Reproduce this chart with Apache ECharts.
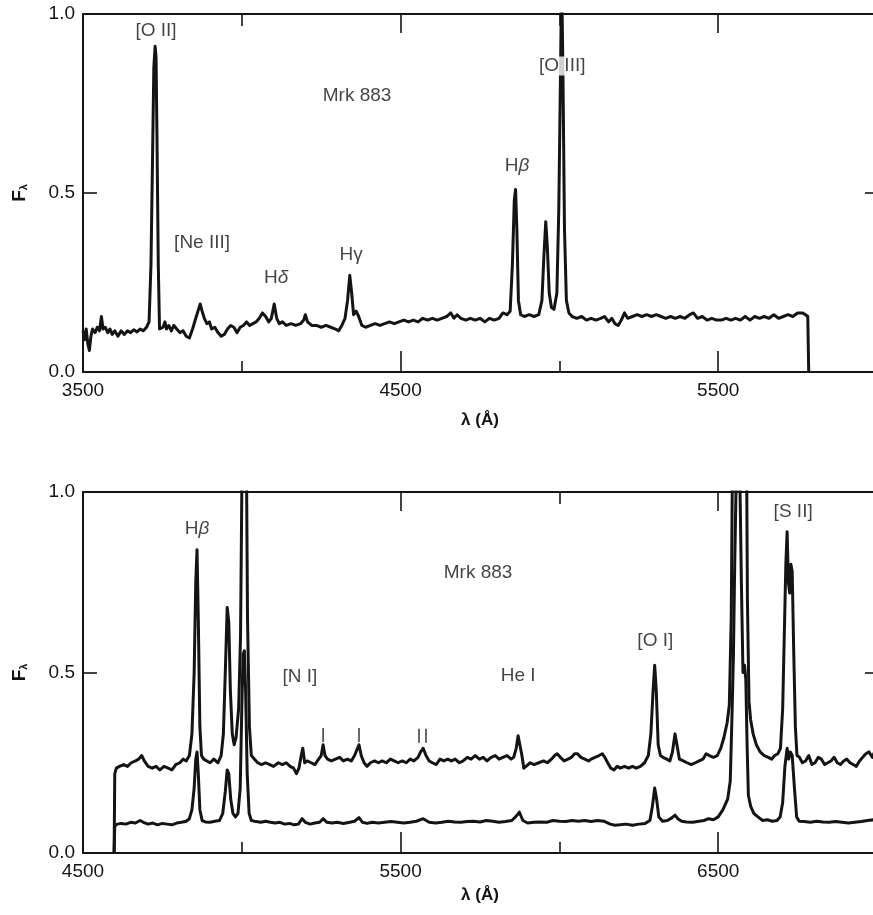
<!DOCTYPE html>
<html><head><meta charset="utf-8">
<script src="https://cdn.jsdelivr.net/npm/echarts@6/dist/echarts.min.js"></script>
<style>html,body{margin:0;padding:0;background:#fff;overflow:hidden}#c{width:873px;height:915px}</style>
</head><body><div id="c"></div>
<script>
// ---------- Top panel spectrum (Mrk 883, blue) ----------
const topWave = [3500,3505,3510,3515,3520,3525,3530,3538,3545,3552,3558,3563,3570,3578,3585,3592,3600,3610,3620,3630,3640,3650,3660,3670,3680,3690,3700,3708,3714,3719,3723,3727,3730,3733,3737,3741,3746,3752,3758,3763,3770,3778,3786,3795,3805,3815,3825,3835,3845,3855,3862,3869,3875,3882,3890,3898,3905,3915,3925,3935,3945,3955,3965,3975,3985,3995,4005,4015,4025,4035,4045,4055,4065,4075,4085,4093,4102,4110,4118,4128,4140,4155,4170,4185,4195,4200,4207,4220,4235,4250,4265,4280,4295,4305,4315,4325,4333,4340,4346,4352,4360,4368,4378,4390,4405,4420,4435,4450,4465,4480,4495,4510,4525,4540,4555,4570,4585,4600,4615,4630,4645,4658,4668,4678,4690,4705,4720,4735,4750,4765,4780,4795,4810,4822,4835,4845,4852,4858,4862,4866,4871,4878,4890,4905,4920,4935,4945,4951,4957,4962,4968,4975,4983,4992,4998,5003,5007,5011,5016,5022,5030,5040,5055,5070,5085,5100,5115,5130,5142,5155,5165,5175,5185,5195,5205,5215,5230,5245,5260,5275,5290,5305,5320,5335,5350,5365,5380,5395,5410,5422,5435,5450,5465,5480,5495,5510,5525,5540,5555,5570,5585,5600,5615,5630,5645,5660,5675,5690,5705,5720,5735,5750,5765,5775,5782,5785];
const topFlux = [0.115,0.09,0.12,0.08,0.06,0.10,0.12,0.11,0.125,0.115,0.155,0.12,0.125,0.11,0.12,0.105,0.115,0.10,0.115,0.105,0.115,0.11,0.118,0.112,0.12,0.115,0.125,0.14,0.30,0.60,0.85,0.91,0.88,0.65,0.30,0.12,0.115,0.125,0.14,0.12,0.13,0.115,0.13,0.12,0.11,0.115,0.10,0.095,0.12,0.15,0.17,0.19,0.17,0.15,0.135,0.14,0.12,0.125,0.11,0.10,0.105,0.12,0.13,0.125,0.11,0.125,0.13,0.14,0.13,0.135,0.14,0.15,0.165,0.155,0.14,0.15,0.19,0.15,0.135,0.14,0.13,0.135,0.13,0.135,0.145,0.16,0.14,0.13,0.13,0.125,0.13,0.125,0.12,0.115,0.13,0.15,0.20,0.27,0.22,0.16,0.17,0.155,0.13,0.125,0.13,0.135,0.13,0.135,0.14,0.135,0.14,0.145,0.14,0.145,0.14,0.15,0.145,0.15,0.145,0.15,0.155,0.165,0.15,0.16,0.15,0.145,0.15,0.145,0.15,0.14,0.15,0.145,0.15,0.165,0.16,0.17,0.30,0.48,0.51,0.40,0.20,0.16,0.155,0.16,0.155,0.16,0.20,0.32,0.42,0.35,0.22,0.18,0.175,0.22,0.45,0.80,1.10,0.85,0.40,0.20,0.165,0.155,0.15,0.155,0.145,0.15,0.145,0.15,0.155,0.14,0.15,0.135,0.13,0.145,0.165,0.15,0.155,0.16,0.155,0.16,0.155,0.16,0.155,0.15,0.155,0.15,0.155,0.15,0.16,0.165,0.15,0.155,0.145,0.15,0.145,0.145,0.15,0.145,0.15,0.145,0.155,0.145,0.155,0.15,0.155,0.15,0.16,0.15,0.155,0.16,0.155,0.165,0.165,0.16,0.155,0.0];

// ---------- Bottom panel: upper (scaled) spectrum ----------
const upperWave = [4598,4600,4605,4615,4628,4640,4652,4665,4675,4685,4693,4705,4718,4730,4742,4755,4768,4780,4792,4805,4815,4825,4835,4843,4850,4855,4859,4863,4868,4873,4880,4890,4900,4912,4925,4935,4942,4948,4954,4959,4964,4970,4976,4982,4990,4996,5001,5007,5013,5018,5024,5030,5040,5050,5062,5075,5088,5100,5115,5128,5140,5152,5163,5172,5180,5187,5192,5198,5206,5218,5230,5242,5250,5256,5262,5270,5282,5295,5308,5320,5332,5345,5355,5362,5369,5376,5385,5394,5405,5418,5430,5442,5455,5468,5480,5492,5505,5518,5530,5542,5555,5563,5571,5580,5590,5600,5612,5624,5636,5648,5660,5672,5685,5697,5710,5722,5735,5748,5760,5772,5785,5798,5810,5822,5835,5848,5856,5864,5870,5876,5882,5888,5895,5908,5920,5935,5950,5962,5975,5985,5993,6003,6015,6027,6038,6048,6057,6068,6080,6092,6100,6112,6125,6135,6143,6152,6162,6172,6182,6192,6205,6218,6230,6242,6255,6268,6280,6288,6295,6300,6305,6311,6318,6326,6338,6348,6356,6364,6370,6378,6390,6402,6415,6428,6440,6452,6462,6472,6485,6497,6508,6518,6528,6535,6541,6546,6552,6558,6563,6568,6574,6580,6584,6588,6592,6597,6602,6610,6620,6632,6645,6658,6668,6678,6688,6696,6703,6708,6713,6717,6721,6725,6729,6733,6738,6743,6748,6756,6765,6775,6785,6795,6805,6815,6825,6835,6845,6855,6865,6875,6885,6895,6905,6915,6925,6935,6945,6955,6965,6975,6985,6995,7000];
const upperFlux = [0.0,0.22,0.235,0.24,0.245,0.24,0.25,0.255,0.26,0.27,0.255,0.24,0.235,0.24,0.23,0.24,0.235,0.23,0.245,0.25,0.26,0.255,0.27,0.33,0.50,0.75,0.84,0.65,0.35,0.27,0.26,0.255,0.25,0.26,0.25,0.27,0.33,0.50,0.68,0.64,0.45,0.33,0.30,0.32,0.40,0.60,1.10,1.65,1.30,0.65,0.35,0.27,0.26,0.25,0.245,0.25,0.245,0.24,0.25,0.245,0.25,0.24,0.235,0.22,0.235,0.27,0.29,0.25,0.255,0.25,0.245,0.26,0.27,0.30,0.27,0.26,0.255,0.26,0.265,0.255,0.26,0.255,0.27,0.285,0.30,0.27,0.25,0.24,0.25,0.255,0.25,0.255,0.25,0.26,0.255,0.25,0.255,0.25,0.26,0.255,0.265,0.28,0.29,0.27,0.255,0.25,0.245,0.26,0.255,0.26,0.255,0.26,0.25,0.255,0.265,0.26,0.27,0.26,0.265,0.255,0.265,0.27,0.26,0.265,0.27,0.26,0.265,0.29,0.325,0.33,0.27,0.235,0.24,0.25,0.245,0.25,0.255,0.25,0.26,0.27,0.275,0.265,0.255,0.26,0.265,0.275,0.275,0.265,0.26,0.255,0.26,0.265,0.27,0.275,0.265,0.25,0.235,0.23,0.24,0.235,0.24,0.235,0.24,0.235,0.24,0.25,0.27,0.33,0.45,0.52,0.45,0.30,0.27,0.265,0.26,0.255,0.28,0.33,0.30,0.26,0.255,0.25,0.245,0.25,0.255,0.26,0.275,0.27,0.265,0.27,0.29,0.32,0.36,0.41,0.65,1.20,2.20,3.00,3.10,2.80,1.90,1.50,1.55,1.30,0.70,0.42,0.37,0.33,0.30,0.28,0.27,0.265,0.26,0.27,0.275,0.29,0.40,0.60,0.80,0.89,0.75,0.72,0.80,0.78,0.55,0.35,0.27,0.265,0.25,0.255,0.27,0.245,0.25,0.265,0.26,0.245,0.25,0.255,0.265,0.25,0.245,0.255,0.26,0.25,0.245,0.24,0.255,0.265,0.275,0.28,0.265,0.285,0.28];

// ---------- Bottom panel: lower spectrum ----------
const lowerWave = [4598,4600,4608,4620,4635,4650,4665,4680,4690,4705,4720,4735,4750,4765,4780,4795,4810,4825,4835,4843,4850,4855,4859,4863,4868,4875,4885,4900,4915,4930,4940,4948,4954,4959,4965,4972,4980,4988,4995,5000,5004,5008,5012,5017,5023,5030,5045,5060,5075,5090,5105,5120,5135,5150,5165,5178,5190,5200,5215,5230,5245,5256,5268,5285,5300,5320,5340,5355,5369,5380,5395,5410,5430,5450,5470,5490,5510,5530,5550,5571,5590,5610,5630,5650,5670,5690,5710,5730,5750,5770,5790,5810,5830,5850,5862,5874,5885,5900,5920,5940,5960,5980,6000,6020,6040,6060,6080,6100,6120,6140,6160,6175,6190,6210,6230,6250,6270,6285,6293,6300,6306,6313,6325,6340,6355,6364,6373,6385,6400,6420,6440,6455,6470,6485,6500,6515,6530,6538,6544,6548,6552,6557,6563,6568,6573,6578,6583,6587,6591,6595,6602,6612,6625,6640,6655,6670,6685,6695,6703,6710,6717,6722,6727,6733,6740,6747,6755,6770,6790,6810,6830,6850,6870,6890,6910,6930,6950,6970,6990,7000];
const lowerFlux = [0.0,0.075,0.08,0.082,0.08,0.085,0.083,0.09,0.085,0.08,0.083,0.078,0.082,0.08,0.078,0.083,0.085,0.088,0.095,0.12,0.18,0.26,0.28,0.22,0.12,0.09,0.086,0.085,0.088,0.09,0.11,0.17,0.23,0.22,0.15,0.11,0.10,0.11,0.18,0.40,0.55,0.56,0.45,0.22,0.11,0.09,0.087,0.085,0.088,0.085,0.083,0.085,0.08,0.082,0.078,0.08,0.095,0.085,0.08,0.083,0.085,0.095,0.085,0.083,0.085,0.082,0.085,0.088,0.098,0.085,0.082,0.085,0.083,0.085,0.087,0.085,0.083,0.085,0.088,0.095,0.085,0.083,0.085,0.088,0.086,0.085,0.087,0.088,0.086,0.09,0.088,0.085,0.087,0.09,0.10,0.113,0.09,0.083,0.085,0.086,0.085,0.09,0.088,0.087,0.09,0.088,0.09,0.087,0.09,0.088,0.08,0.077,0.078,0.08,0.077,0.08,0.082,0.09,0.13,0.18,0.15,0.10,0.088,0.09,0.098,0.105,0.095,0.088,0.086,0.085,0.088,0.09,0.095,0.092,0.10,0.12,0.15,0.20,0.40,0.55,0.80,1.05,1.10,1.05,0.75,0.50,0.52,0.48,0.30,0.16,0.13,0.11,0.10,0.09,0.092,0.088,0.09,0.10,0.14,0.24,0.29,0.26,0.28,0.27,0.18,0.10,0.088,0.087,0.085,0.088,0.086,0.085,0.087,0.085,0.083,0.085,0.087,0.09,0.092,0.09];

// ---------- Annotations ----------
const topNotes = ['[O II]','Mrk 883','[Ne III]','Hδ','Hγ','Hβ','[O III]'];
const topNoteWave = [3730,4363,3875,4108,4344,4867,5009];
const topNoteFlux = [0.953,0.771,0.360,0.263,0.327,0.575,0.855];
const botNotes = ['Hβ','Mrk 883','[N I]','He I','[O I]','[S II]'];
const botNoteWave = [4859,5744,5183,5870,6302,6736];
const botNoteFlux = [0.898,0.776,0.488,0.490,0.587,0.945];
const skyMarkWave = [5256,5369,5558,5580];
const skyMarkFlux = [0.327,0.327,0.325,0.325];

// ---------- Axis ticks ----------
const topRange = [3500,6000];
const botRange = [4500,7000];
const topLabelTicks = [3500,4500,5500];
const topMinorTicks = [4000,5000];
const topMajorTicks = [4500,5500];
const botLabelTicks = [4500,5500,6500];
const botMinorTicks = [5000,6000];
const botMajorTicks = [5500,6500];
const yLabelTicks = [0,0.5,1];
const yInnerTicks = [0.5];

const FONT = '"Liberation Sans", Arial, Helvetica, sans-serif';
const INK = '#141414';

function xAxes(grid, range, labels, minor, major, nameGap) {
  const base = {gridIndex:grid, type:'value', min:range[0], max:range[1], splitLine:{show:false}};
  const tickStyle = {color:INK, width:1.6};
  return [
    Object.assign({}, base, {position:'bottom',
      axisLine:{onZero:false, lineStyle:{color:INK, width:2}},
      axisTick:{show:true, inside:true, length:11, customValues:minor, lineStyle:tickStyle},
      axisLabel:{customValues:labels, margin:9, fontSize:19, color:INK, fontFamily:FONT,
        formatter:v => String(v)},
      name:'λ (Å)', nameLocation:'middle', nameGap:nameGap,
      nameTextStyle:{fontWeight:'bold', fontSize:17, color:INK, fontFamily:FONT}}),
    Object.assign({}, base, {position:'bottom',
      axisLine:{show:false, onZero:false},
      axisTick:{show:true, inside:true, length:21, customValues:major, lineStyle:tickStyle},
      axisLabel:{show:false}}),
    Object.assign({}, base, {position:'top',
      axisLine:{onZero:false, lineStyle:{color:INK, width:2}},
      axisTick:{show:true, inside:true, length:12, customValues:minor, lineStyle:tickStyle},
      axisLabel:{show:false}}),
    Object.assign({}, base, {position:'top',
      axisLine:{show:false, onZero:false},
      axisTick:{show:true, inside:true, length:19, customValues:major, lineStyle:tickStyle},
      axisLabel:{show:false}})
  ];
}
function yAxes(grid) {
  return [
    {gridIndex:grid, type:'value', position:'left', min:0, max:1, splitLine:{show:false},
      axisLine:{onZero:false, lineStyle:{color:INK, width:2}},
      axisTick:{show:true, inside:true, length:14, customValues:yInnerTicks, lineStyle:{color:INK, width:1.6}},
      axisLabel:{customValues:yLabelTicks, margin:8, fontSize:19, color:INK, fontFamily:FONT,
        formatter:v => Number(v).toFixed(1)},
      name:'{f|F}{s|λ}', nameLocation:'middle', nameGap:54, nameRotate:90,
      nameTextStyle:{color:INK, fontFamily:FONT,
        rich:{f:{fontWeight:'bold', fontSize:19, color:INK, fontFamily:FONT, verticalAlign:'bottom', lineHeight:22},
              s:{fontSize:11, fontWeight:'bold', color:INK, fontFamily:FONT, verticalAlign:'bottom', lineHeight:15}}}},
    {gridIndex:grid, type:'value', position:'right', min:0, max:1, splitLine:{show:false},
      axisLine:{show:false, onZero:false},
      axisTick:{show:true, inside:true, length:12, customValues:yInnerTicks, lineStyle:{color:INK, width:1.6}},
      axisLabel:{show:false}}
  ];
}
function pairs(w, f) { return w.map((x, i) => [x, f[i]]); }
function notes(names, w, f) { return names.map((n, i) => ({name:n, value:[w[i], f[i]]})); }

function lineSeries(xi, yi, w, f) {
  return {type:'line', xAxisIndex:xi, yAxisIndex:yi, data:pairs(w, f), showSymbol:false, symbol:'none',
    clip:true, lineStyle:{color:INK, width:3, join:'round'}, silent:true, z:3};
}
function noteSeries(xi, yi, names, w, f) {
  return {type:'scatter', xAxisIndex:xi, yAxisIndex:yi, data:notes(names, w, f), symbolSize:1,
    itemStyle:{color:'rgba(0,0,0,0)'}, silent:true, z:5,
    label:{show:true, position:'inside', fontSize:19, color:INK, fontFamily:FONT,
      backgroundColor:'#fff', padding:[0,1],
      formatter:p => p.name.replace(/([βδ])/g, '{g|$1}'),
      rich:{g:{fontStyle:'italic', fontSize:19, color:INK, fontFamily:FONT}}}};
}

const chart = echarts.init(document.getElementById('c'), null, {renderer:'canvas'});
chart.setOption({
  animation:false,
  backgroundColor:'#fff',
  grid:[
    {left:83, top:14, width:794, height:358, outerBoundsMode:'none', containLabel:false},
    {left:83, top:492, width:794, height:361, outerBoundsMode:'none', containLabel:false}
  ],
  xAxis:[].concat(xAxes(0, topRange, topLabelTicks, topMinorTicks, topMajorTicks, 40),
                  xAxes(1, botRange, botLabelTicks, botMinorTicks, botMajorTicks, 34)),
  yAxis:[].concat(yAxes(0), yAxes(1)),
  series:[
    lineSeries(0, 0, topWave, topFlux),
    noteSeries(0, 0, topNotes, topNoteWave, topNoteFlux),
    lineSeries(4, 2, upperWave, upperFlux),
    lineSeries(4, 2, lowerWave, lowerFlux),
    noteSeries(4, 2, botNotes, botNoteWave, botNoteFlux),
    {type:'scatter', xAxisIndex:4, yAxisIndex:2, data:pairs(skyMarkWave, skyMarkFlux),
      symbol:'rect', symbolSize:[1.6, 14], itemStyle:{color:INK}, silent:true, z:4}
  ]
});
</script></body></html>
